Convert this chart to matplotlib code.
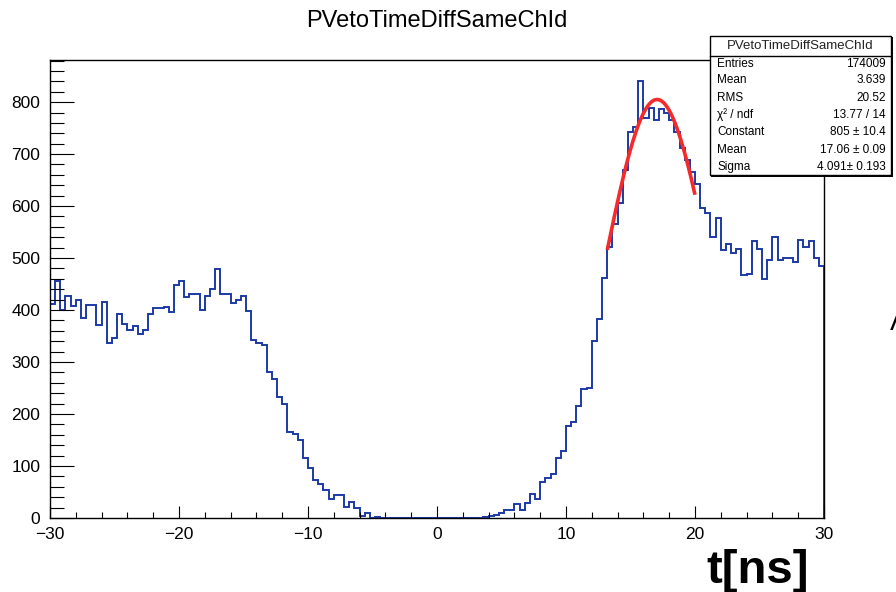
import numpy as np
import matplotlib
matplotlib.use("Agg")
from matplotlib import pyplot as plt
from matplotlib.patches import Rectangle
from matplotlib.lines import Line2D
from matplotlib.ticker import MultipleLocator

plt.rcParams['font.family'] = ['Liberation Sans', 'DejaVu Sans']

# histogram: 150 bins of 0.4 ns between -30 and 30 ns
t_min, t_max, n_bins = -30.0, 30.0, 150
counts = [
    412, 456, 400, 427, 408, 419, 385, 410, 410, 371,
    416, 336, 347, 392, 374, 362, 370, 353, 362, 392,
    403, 403, 406, 396, 448, 455, 426, 430, 430, 401,
    427, 440, 479, 430, 430, 413, 419, 427, 399, 342,
    337, 333, 281, 268, 233, 219, 166, 161, 150, 115,
    96, 74, 65, 54, 36, 44, 44, 22, 30, 19,
    4, 9, 0, 2, 0, 0, 0, 0, 0, 0,
    0, 0, 0, 0, 0, 0, 0, 0, 0, 0,
    0, 0, 0, 0, 2, 3, 5, 9, 15, 15,
    27, 15, 29, 47, 36, 70, 77, 84, 115, 129,
    177, 184, 215, 248, 250, 340, 382, 461, 522, 565,
    605, 669, 743, 752, 841, 769, 788, 766, 787, 780,
    766, 743, 711, 688, 666, 643, 597, 586, 541, 578,
    516, 527, 510, 517, 467, 470, 533, 517, 459, 496,
    540, 496, 501, 501, 493, 534, 521, 533, 501, 485,
]

# gaussian fit result (from the stats box)
fit_const, fit_mean, fit_sigma = 805.0, 17.06, 4.091
fit_range = (13.2, 20.0)

stats_title = "PVetoTimeDiffSameChId"
stats_rows = [
    ("Entries", "174009"),
    ("Mean", "3.639"),
    ("RMS", "20.52"),
    ("\u03c7\u00b2 / ndf", "13.77 / 14"),
    ("Constant", "805 \u00b1 10.4"),
    ("Mean", "17.06 \u00b1 0.09"),
    ("Sigma", "4.091\u00b1 0.193"),
]

W, H = 896, 592


def fx(px):
    return px / W


def fy(py):
    return 1 - py / H


fig = plt.figure(figsize=(W / 100, H / 100), dpi=100)
ax = fig.add_axes([fx(50), fy(518), fx(824) - fx(50), fy(60) - fy(518)])

edges = np.linspace(t_min, t_max, n_bins + 1)
ax.stairs(counts, edges, color='#1c3aa6', linewidth=1.4)

xf = np.linspace(fit_range[0], fit_range[1], 200)
yf = fit_const * np.exp(-0.5 * ((xf - fit_mean) / fit_sigma) ** 2)
ax.plot(xf, yf, color='#f52a2a', linewidth=2.6, solid_capstyle='butt')

ax.set_xlim(t_min, t_max)
ax.set_ylim(0, 881)

ax.xaxis.set_major_locator(MultipleLocator(10))
ax.xaxis.set_minor_locator(MultipleLocator(2))
ax.yaxis.set_major_locator(MultipleLocator(100))
ax.yaxis.set_minor_locator(MultipleLocator(20))

ax.tick_params(axis='x', which='major', direction='in', length=8.6, width=0.8, pad=6.5, labelsize=12.5)
ax.tick_params(axis='x', which='minor', direction='in', length=4.5, width=0.8)
ax.tick_params(axis='y', which='major', direction='in', length=17, width=0.8, pad=7, labelsize=12.5)
ax.tick_params(axis='y', which='minor', direction='in', length=10, width=0.8)
ax.tick_params(top=False, right=False, which='both')
for s in ax.spines.values():
    s.set_linewidth(1.0)
    s.set_color('black')

fig.text(fx(437), fy(21), "PVetoTimeDiffSameChId", ha='center', va='center', fontsize=17)

# stats box
bx0, by0, bx1, by1 = 710, 36, 891, 175
fig.add_artist(Rectangle((fx(bx0), fy(by1)), fx(bx1) - fx(bx0), fy(by0) - fy(by1),
                         transform=fig.transFigure, facecolor='white', edgecolor='black',
                         linewidth=1.0, zorder=5))
fig.add_artist(Line2D([fx(bx0 + 2), fx(bx1 + 1)], [fy(by1 + 1), fy(by1 + 1)],
                      transform=fig.transFigure, color='black', linewidth=1.4, zorder=6))
fig.add_artist(Line2D([fx(bx1 + 1), fx(bx1 + 1)], [fy(by0 + 2), fy(by1 + 1)],
                      transform=fig.transFigure, color='black', linewidth=1.4, zorder=6))
fig.add_artist(Line2D([fx(bx0), fx(bx1)], [fy(56), fy(56)],
                      transform=fig.transFigure, color='black', linewidth=1.0, zorder=6))
fig.text(fx((bx0 + bx1) / 2), fy(46), stats_title, ha='center', va='center',
         fontsize=9.5, color='#222222', zorder=7)
row_y = [64, 80, 98, 115, 132, 150, 167]
for (lab, val), yy in zip(stats_rows, row_y):
    fig.text(fx(717), fy(yy), lab, ha='left', va='center', fontsize=8.5, zorder=7)
    fig.text(fx(886), fy(yy), val, ha='right', va='center', fontsize=8.5, zorder=7)

fig.text(fx(706), fy(583), "t[ns]", ha='left', va='baseline', fontsize=34, fontweight='bold')
fig.text(fx(891), fy(330), "/", ha='left', va='baseline', fontsize=16,
         fontweight='bold', fontstyle='italic')

fig.savefig("out.png", dpi=100)
